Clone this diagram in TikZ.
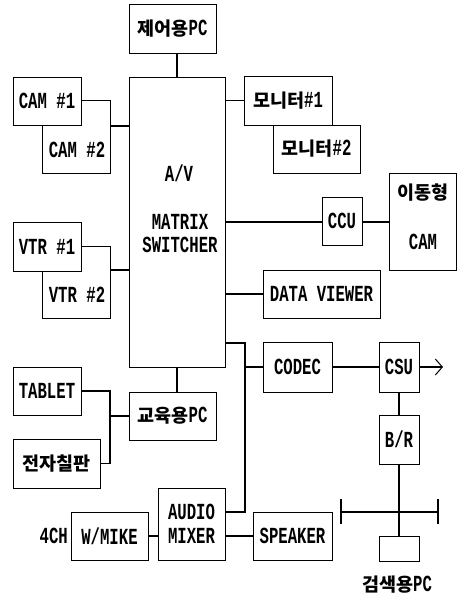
\documentclass[tikz,border=0pt]{standalone}
\usepackage{fontspec}
\setmainfont{Liberation Serif}
\newfontfamily\lat[FakeStretch=0.68]{Liberation Mono}
\newfontfamily\kr{Noto Sans CJK KR}
\usetikzlibrary{arrows.meta}
\newcommand\krt[1]{{\kr\bfseries\fontsize{18.5}{22}\selectfont #1}}
\begin{document}
\begin{tikzpicture}[x=1pt,y=-1pt,
  bx/.style={draw,line width=1pt,inner sep=0pt,fill=white,align=center,
    font=\lat\bfseries\fontsize{23}{24}\selectfont},
  sz/.style 2 args={minimum width=#1pt,minimum height=#2pt},
  ln/.style={line width=1.1pt},
  txt/.style={inner sep=0pt,font=\lat\bfseries\fontsize{23}{24}\selectfont},
]
\useasboundingbox (0,0) rectangle (457,598);
% central column
\node[bx,sz={87}{49}] (pcctl) at (172.5,28.5) {\krt{제어용}PC};
\node[bx,sz={96}{290}] (mx) at (177,222) {};
\node[txt] (tav) at (179,173) {A/V};
\node[txt] (tmx) at (180,222) {MATRIX};
\node[txt] (tsw) at (180,245) {SWITCHER};
\node[bx,sz={87}{48}] (edu) at (172.5,416) {\krt{교육용}PC};
% left side stacked boxes
\node[bx,sz={68}{73}] (cam2) at (76,136.5) {};
\node[txt] (tcam2) at (77,150) {CAM \#2};
\node[bx,sz={68}{48}] (cam1) at (47,101) {CAM \#1};
\node[bx,sz={68}{72}] (vtr2) at (76,282) {};
\node[txt] (tvtr2) at (77,295) {VTR \#2};
\node[bx,sz={68}{49}] (vtr1) at (47,246.5) {VTR \#1};
\node[bx,sz={68}{48}] (tab) at (47,391) {TABLET};
\node[bx,sz={87}{49}] (ebd) at (56.5,463.5) {\krt{전자칠판}};
\node[bx,sz={77}{48}] (wm) at (109.5,536) {W/MIKE};
\node[txt,anchor=east] (ch) at (68,536) {4CH};
\node[bx,sz={67}{72},align=left] (amx) at (191.5,524) {AUDIO\\MIXER};
% right side
\node[bx,sz={88}{49}] (mon1) at (288,100.5) {\krt{모니터}\#1};
\node[bx,sz={87}{48}] (mon2) at (316.5,149) {\krt{모니터}\#2};
\node[bx,sz={40}{48}] (ccu) at (342,221) {CCU};
\node[bx,sz={67}{97}] (mcam) at (422.5,221.5) {};
\node[txt] (tmc1) at (423,193) {\krt{이동형}};
\node[txt] (tmc2) at (423,242) {CAM};
\node[bx,sz={117}{48}] (dv) at (321.5,294) {DATA VIEWER};
\node[bx,sz={69}{50}] (cod) at (297.5,367) {CODEC};
\node[bx,sz={40}{50}] (csu) at (399,367) {CSU};
\node[bx,sz={40}{49}] (br) at (399,439.5) {B/R};
\node[bx,sz={40}{25}] (spc) at (399,548.5) {};
\node[txt] (tspc) at (397,585) {\krt{검색용}PC};
\node[bx,sz={79}{48}] (spk) at (292.5,536) {SPEAKER};
\coordinate (arr) at (443,367);
\coordinate (busl) at (341,512);
\coordinate (busr) at (438,512);
\coordinate (jx) at (245,343);
\coordinate (jt) at (110,391);
% connectors
\draw[ln] (mx.north) -- (mx.north |- pcctl.south);
\draw[ln] (cam2.east |- 0,126) -- (mx.west |- 0,126);
\draw[ln] (vtr2.east |- 0,270) -- (mx.west |- 0,270);
\draw[ln] (mx.east |- mon1.west) -- (mon1.west);
\draw[ln] (mx.east |- 0,222) -- (ccu.west |- 0,222);
\draw[ln] (ccu.east |- 0,222) -- (mcam.west |- 0,222);
\draw[ln] (mx.east |- dv.west) -- (dv.west);
\draw[ln] (mx.east |- jx) -- (jx) -- (jx |- 0,512) -- (amx.east |- 0,512);
\draw[ln] (jx |- cod.west) -- (cod.west);
\draw[ln] (cod.east) -- (csu.west);
\draw[ln,-{Straight Barb[length=7pt,width=16pt,line width=1pt]}] (csu.east) -- (arr);
\draw[ln] (csu.south) -- (br.north);
\draw[ln] (br.south) -- (spc.north);
\draw[ln] (busl) -- (busr);
\draw[ln,line width=1.6pt] ([yshift=-12pt]busl) -- ([yshift=13pt]busl);
\draw[ln,line width=1.6pt] ([yshift=-12pt]busr) -- ([yshift=13pt]busr);
\draw[ln] (mx.south) -- (mx.south |- edu.north);
\draw[ln] (tab.east) -- (jt) -- (jt |- ebd.east) -- (ebd.east);
\draw[ln] (jt |- edu.west) -- (edu.west);
\draw[ln] (wm.east) -- (amx.west |- wm.east);
\draw[ln] (amx.east |- spk.west) -- (spk.west);
\end{tikzpicture}
\end{document}
